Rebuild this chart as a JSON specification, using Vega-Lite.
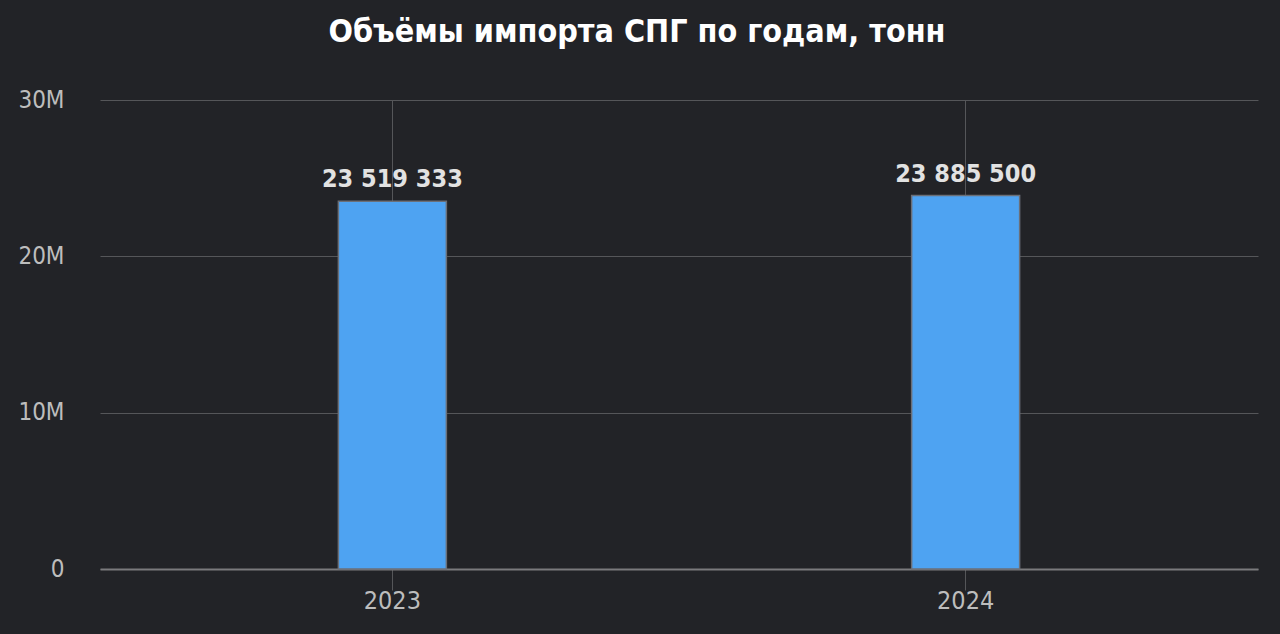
{
  "$schema": "https://vega.github.io/schema/vega-lite/v6.json",
  "autosize": "none",
  "width": 1158,
  "height": 469,
  "padding": {"left": 100, "top": 100, "right": 22, "bottom": 65},
  "background": "#222327",
  "title": {
    "text": "Объёмы импорта СПГ по годам, тонн",
    "anchor": "middle",
    "fontSize": 32,
    "fontWeight": "bold",
    "font": "DejaVu Sans Condensed",
    "color": "#ffffff",
    "offset": 39,
    "dx": -42
  },
  "config": {
    "view": {"stroke": null},
    "locale": {"number": {"decimal": ",", "thousands": " ", "grouping": [3], "currency": ["", ""]}}
  },
  "data": {
    "values": [
      {"year": "2023", "tons": 23519333},
      {"year": "2024", "tons": 23885500}
    ]
  },
  "encoding": {
    "x": {
      "field": "year",
      "type": "ordinal",
      "scale": {"paddingInner": 0, "paddingOuter": 0.01},
      "axis": {
        "title": null,
        "labelAngle": 0,
        "labelFont": "DejaVu Sans Condensed",
        "labelFontSize": 25,
        "labelColor": "#bdbdbd",
        "grid": true,
        "gridColor": "#555659",
        "gridWidth": 1,
        "bandPosition": 0.5,
        "domainColor": "#7a7a7d",
        "domainWidth": 2,
        "tickColor": "#555659",
        "tickSize": 21,
        "labelPadding": -2
      }
    },
    "y": {
      "field": "tons",
      "type": "quantitative",
      "scale": {"domain": [0, 30000000], "nice": false},
      "axis": {
        "title": null,
        "values": [0, 10000000, 20000000, 30000000],
        "format": "~s",
        "labelExpr": "datum.value == 0 ? '0' : datum.label",
        "labelFont": "DejaVu Sans Condensed",
        "labelFontSize": 24,
        "labelColor": "#bdbdbd",
        "labelPadding": 36,
        "ticks": false,
        "domain": false,
        "grid": true,
        "gridColor": "#555659",
        "gridWidth": 1
      }
    }
  },
  "layer": [
    {
      "mark": {"type": "bar", "width": 108, "color": "#4ea3f2", "stroke": "#6b6f78", "strokeWidth": 1.5}
    },
    {
      "mark": {
        "type": "text",
        "baseline": "bottom",
        "dy": -9,
        "font": "DejaVu Sans Condensed",
        "fontSize": 25,
        "fontWeight": "bold",
        "color": "#e2e2e2"
      },
      "encoding": {
        "text": {"field": "tons", "type": "quantitative", "format": ",.0f"}
      }
    }
  ]
}
